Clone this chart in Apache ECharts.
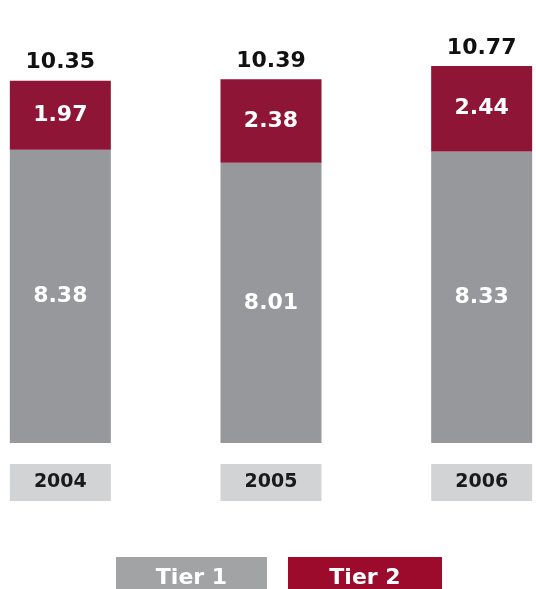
<!DOCTYPE html>
<html>
<head>
<meta charset="utf-8">
<script src="https://cdn.jsdelivr.net/npm/echarts@6/dist/echarts.min.js"></script>
<style>
  html, body { margin: 0; padding: 0; background: #ffffff; }
  #chart { width: 536px; height: 589px; }
</style>
</head>
<body>
<div id="chart"></div>
<script>
// Capital by tier, per year
const years = ['2004', '2005', '2006'];
const tier1 = [8.38, 8.01, 8.33];
const tier2 = [1.97, 2.38, 2.44];
const seriesNames = ['Tier 1', 'Tier 2'];

const GRAY = '#96989b';
const MAROON = '#8e1535';
const LEGEND_COLORS = ['#a2a3a5', '#9c0b2c'];
const valueFont = '"DejaVu Sans", sans-serif';

const totals = tier1.map((v, i) => +(v + tier2[i]).toFixed(2));

const chart = echarts.init(document.getElementById('chart'), null, { renderer: 'canvas' });

// Legend swatches with the series names written inside them
const legendBoxes = [
  { x: 116, w: 151 },
  { x: 288, w: 154 }
];
const legendGraphics = seriesNames.map((name, i) => ({
  type: 'group',
  left: legendBoxes[i].x,
  top: 557,
  children: [
    {
      type: 'rect',
      shape: { x: 0, y: 0, width: legendBoxes[i].w, height: 40 },
      style: { fill: LEGEND_COLORS[i] }
    },
    {
      type: 'text',
      x: legendBoxes[i].w / 2,
      y: 21,
      style: {
        text: name,
        fill: '#ffffff',
        font: 'bold 22px "DejaVu Sans", sans-serif',
        align: 'center',
        verticalAlign: 'middle'
      }
    }
  ]
}));

chart.setOption({
  animation: false,
  backgroundColor: '#ffffff',
  grid: { left: -45, width: 632, top: 23, bottom: 146, outerBoundsMode: 'none', containLabel: false },
  graphic: legendGraphics,
  xAxis: {
    type: 'category',
    data: years,
    axisLine: { show: false },
    axisTick: { show: false },
    axisLabel: {
      margin: 21,
      color: '#1a1a1a',
      fontSize: 19,
      fontWeight: 'bold',
      fontFamily: valueFont,
      backgroundColor: '#d2d3d5',
      width: 101,
      height: 37,
      lineHeight: 37,
      align: 'center'
    }
  },
  yAxis: {
    type: 'value',
    min: 0,
    max: 12,
    show: false,
    splitLine: { show: false }
  },
  series: [
    {
      name: seriesNames[0],
      type: 'bar',
      stack: 'capital',
      data: tier1,
      barWidth: 101,
      itemStyle: { color: GRAY },
      label: {
        show: true,
        position: 'inside',
        color: '#ffffff',
        fontSize: 22,
        fontWeight: 'bold',
        fontFamily: valueFont,
        formatter: p => p.value.toFixed(2)
      }
    },
    {
      name: seriesNames[1],
      type: 'bar',
      stack: 'capital',
      data: tier2,
      barWidth: 101,
      itemStyle: { color: MAROON },
      label: {
        show: true,
        position: 'inside',
        color: '#ffffff',
        fontSize: 22,
        fontWeight: 'bold',
        fontFamily: valueFont,
        formatter: p => p.value.toFixed(2)
      }
    },
    {
      // zero-height segment that carries the stack total above each column
      name: 'total',
      type: 'bar',
      stack: 'capital',
      data: totals.map(() => 0),
      barWidth: 101,
      itemStyle: { color: 'transparent' },
      label: {
        show: true,
        position: 'top',
        distance: 7,
        color: '#111111',
        fontSize: 22,
        fontWeight: 'bold',
        fontFamily: valueFont,
        formatter: p => totals[p.dataIndex].toFixed(2)
      },
      tooltip: { show: false }
    }
  ]
});
</script>
</body>
</html>
